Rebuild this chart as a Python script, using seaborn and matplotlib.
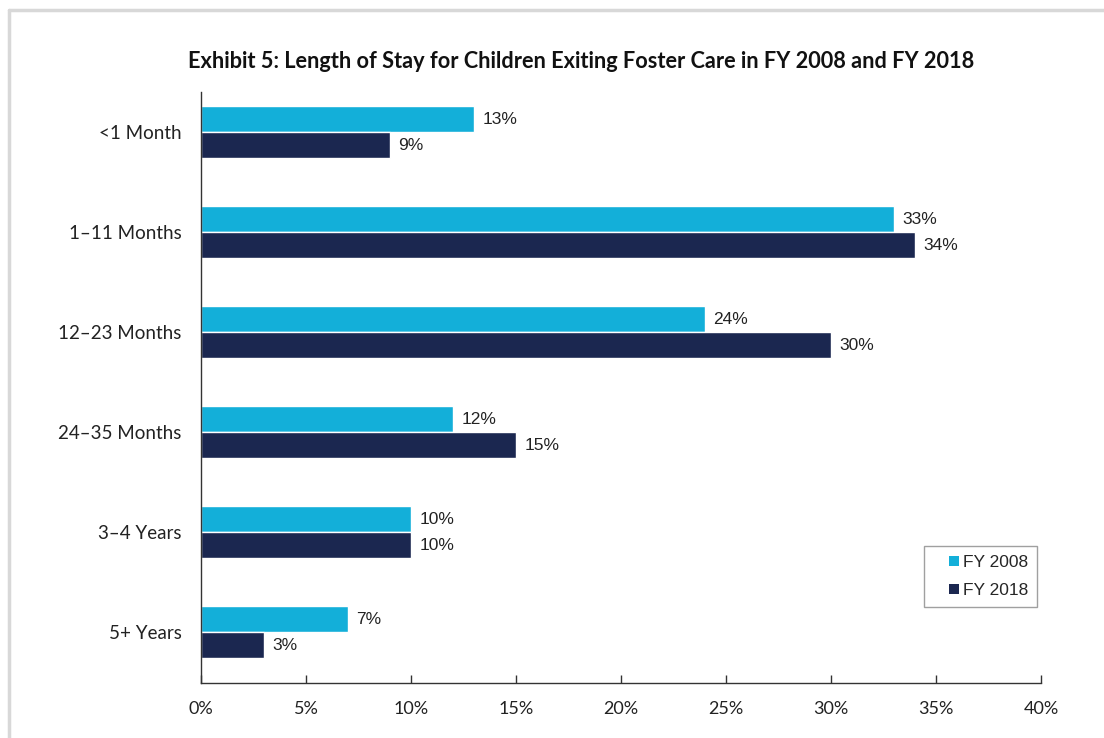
import pandas as pd
import seaborn as sns
import matplotlib.pyplot as plt
from matplotlib.lines import Line2D

categories = ['<1 Month', '1\u201311 Months', '12\u201323 Months', '24\u201335 Months', '3\u20134 Years', '5+ Years']
fy2008 = [13, 33, 24, 12, 10, 7]
fy2018 = [9, 34, 30, 15, 10, 3]
series = ['FY 2008', 'FY 2018']
xticks = [0, 5, 10, 15, 20, 25, 30, 35, 40]

colors = {'FY 2008': '#13AFD9', 'FY 2018': '#1B2750'}

df = pd.DataFrame({
    'category': categories * 2,
    'value': fy2008 + fy2018,
    'year': [series[0]] * len(categories) + [series[1]] * len(categories),
})

sns.set_style('white')
plt.rcParams['font.family'] = ['Lato', 'DejaVu Sans']

fig = plt.figure(figsize=(11.04, 7.38), dpi=100)
ax = fig.add_axes([201 / 1104, 55 / 738, 840 / 1104, 591 / 738])

sns.barplot(data=df, y='category', x='value', hue='year', order=categories,
            hue_order=series, palette=colors, orient='h', width=0.52,
            saturation=1, legend=False, ax=ax)

for cont in ax.containers:
    ax.bar_label(cont, labels=[f'{v:.0f}%' for v in cont.datavalues], padding=6,
                 fontsize=12.5, family='Liberation Sans', color='#222222')

ax.set_xlim(0, 40)
ax.set_ylim(5.51, -0.4)
ax.set_xticks(xticks)
ax.set_xticklabels([f'{t}%' for t in xticks], fontsize=13, color='#222222')
ax.tick_params(axis='y', labelsize=13.5, labelcolor='#222222', length=0, pad=14)
ax.tick_params(axis='x', direction='in', length=6, width=1, color='#333333', bottom=True, pad=13)
ax.set_xlabel('')
ax.set_ylabel('')
for side in ['top', 'right']:
    ax.spines[side].set_visible(False)
for side in ['left', 'bottom']:
    ax.spines[side].set_color('#333333')
    ax.spines[side].set_linewidth(1)

# square markers sitting just left of the text, as in the exhibit
handles = [Line2D([], [], linestyle='none', marker='s', markersize=7.5,
                  markerfacecolor=colors[s], markeredgewidth=0, label=s) for s in series]
leg = ax.legend(handles=handles, loc='lower right', bbox_to_anchor=(1037 / 1104, 131 / 738),
                bbox_transform=fig.transFigure, borderaxespad=0, frameon=True, fancybox=False,
                handlelength=2.4, handletextpad=-0.65,
                labelspacing=0.75, borderpad=0.5, prop={'family': 'Liberation Sans', 'size': 12.5})
leg.get_frame().set_edgecolor('#888888')
leg.get_frame().set_linewidth(1)

fig.text(581 / 1104, 1 - 61 / 738, 'Exhibit 5: Length of Stay for Children Exiting Foster Care in FY 2008 and FY 2018',
         ha='center', va='center', fontsize=15.7, fontweight='bold', color='#111111')

# light grey frame around the exhibit
fig.add_artist(Line2D([9 / 1104, 1], [1 - 10 / 738, 1 - 10 / 738], color='#D8D8D8', lw=2.5))
fig.add_artist(Line2D([9 / 1104, 9 / 1104], [0, 1 - 10 / 738], color='#D8D8D8', lw=2.5))

fig.savefig('out.png', dpi=100)
